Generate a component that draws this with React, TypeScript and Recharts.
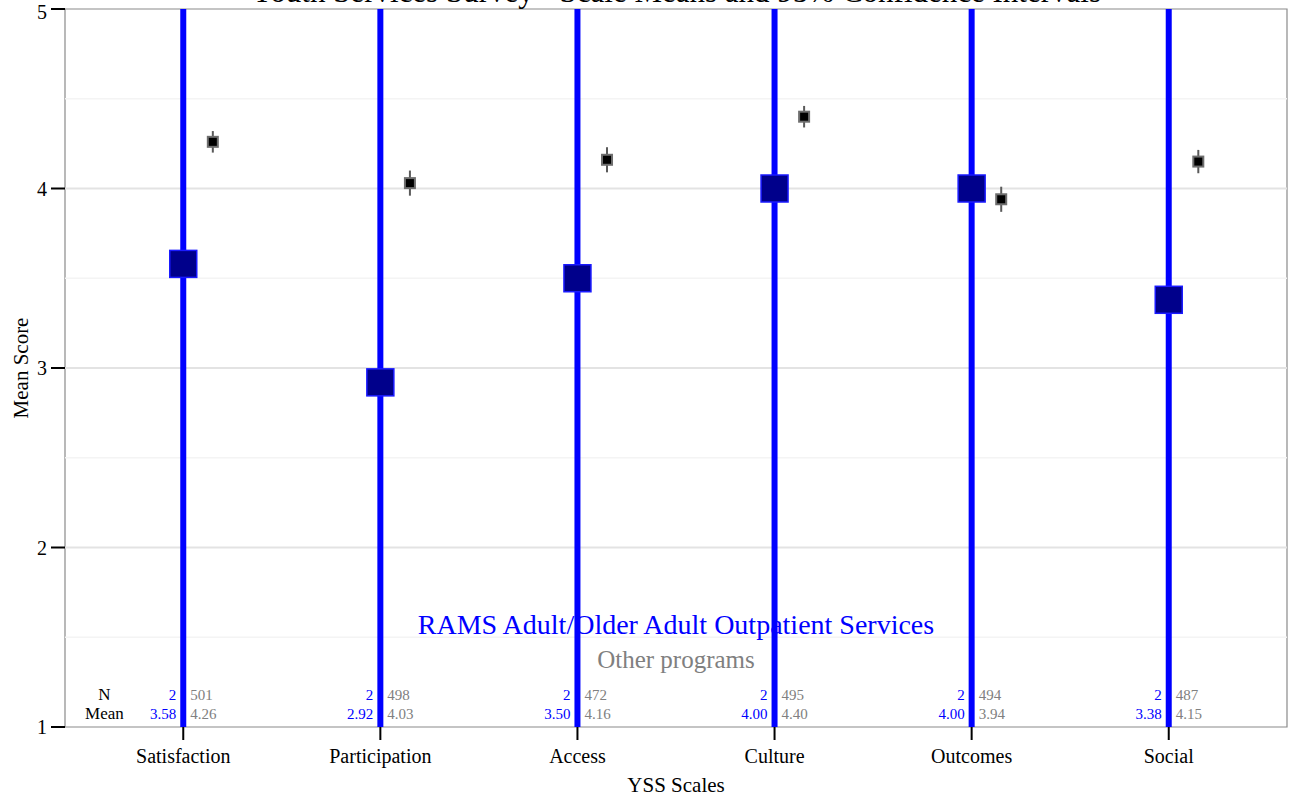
import {
  ComposedChart, Scatter, Line, XAxis, YAxis, ErrorBar, ReferenceLine, ReferenceArea, Label,
} from "recharts";

const SCALES = ["Satisfaction", "Participation", "Access", "Culture", "Outcomes", "Social"];

// RAMS Adult/Older Adult Outpatient Services
const ramsMean = [3.58, 2.92, 3.5, 4.0, 4.0, 3.38];
const ramsN = [2, 2, 2, 2, 2, 2];
const ramsLow = [-2.6, -4.6, -2.3, -0.9, -0.9, -3.2];
const ramsHigh = [9.8, 10.4, 9.3, 8.9, 8.9, 9.9];

// Other programs
const otherMean = [4.26, 4.03, 4.16, 4.4, 3.94, 4.15];
const otherN = [501, 498, 472, 495, 494, 487];
const otherCI = [0.06, 0.07, 0.07, 0.06, 0.07, 0.065];

const Y_TICKS = [1, 2, 3, 4, 5];
const MAJOR_GRID = [2, 3, 4];
const MINOR_GRID = [1.5, 2.5, 3.5, 4.5];

const X_DOMAIN: [number, number] = [0.4, 6.6];
const Y_DOMAIN: [number, number] = [1, 5];
const DODGE = 0.15;
const N_ROW_Y = 1.15;
const MEAN_ROW_Y = 1.045;
const ROW_LABEL_X = 0.6;

const FONT = "'Liberation Serif', 'DejaVu Serif', serif";

const ramsData = ramsMean.map((m, i) => ({ x: i + 1, y: m }));
const ramsLines = ramsMean.map((_, i) => [
  { x: i + 1, y: ramsLow[i] },
  { x: i + 1, y: ramsHigh[i] },
]);
const otherData = otherMean.map((m, i) => ({ x: i + 1 + DODGE, y: m, ci: otherCI[i] }));

const textRows = [
  { x: ROW_LABEL_X, y: N_ROW_Y, label: "N", color: "#000", anchor: "middle", dx: 0, size: 17 },
  { x: ROW_LABEL_X, y: MEAN_ROW_Y, label: "Mean", color: "#000", anchor: "middle", dx: 0, size: 17 },
  ...ramsN.map((n, i) => ({ x: i + 1, y: N_ROW_Y, label: String(n), color: "#0000ff", anchor: "end", dx: -7, size: 15 })),
  ...ramsMean.map((m, i) => ({ x: i + 1, y: MEAN_ROW_Y, label: m.toFixed(2), color: "#0000ff", anchor: "end", dx: -7, size: 15 })),
  ...otherN.map((n, i) => ({ x: i + 1, y: N_ROW_Y, label: String(n), color: "#808080", anchor: "start", dx: 7, size: 15 })),
  ...otherMean.map((m, i) => ({ x: i + 1, y: MEAN_ROW_Y, label: m.toFixed(2), color: "#808080", anchor: "start", dx: 7, size: 15 })),
];

const legendText = [
  { x: 3.5, y: 1.52, label: "RAMS Adult/Older Adult Outpatient Services", color: "#0000ff", size: 28 },
  { x: 3.5, y: 1.33, label: "Other programs", color: "#808080", size: 25 },
];

function TableText(p: any) {
  const d = p.payload;
  return (
    <text x={p.cx + d.dx} y={p.cy} textAnchor={d.anchor} fill={d.color} fontSize={d.size} fontFamily={FONT}>
      {d.label}
    </text>
  );
}

function LegendText(p: any) {
  const d = p.payload;
  return (
    <text x={p.cx} y={p.cy} textAnchor="middle" fill={d.color} fontSize={d.size} fontFamily={FONT}>
      {d.label}
    </text>
  );
}

function BigSquare(p: any) {
  return (
    <rect x={p.cx - 13.5} y={p.cy - 13.5} width={27} height={27} fill="#00008b" stroke="#1a1aff" strokeWidth={1.5} />
  );
}

function SmallSquare(p: any) {
  return (
    <rect x={p.cx - 5} y={p.cy - 5} width={10} height={10} fill="#000" stroke="#6e6e6e" strokeWidth={2} />
  );
}

export default function App() {
  return (
    <div style={{ position: "absolute", left: 0, top: 0, width: 1289, height: 801, overflow: "hidden", background: "#fff" }}>
      <ComposedChart width={1289} height={801} margin={{ top: 9, right: 2, bottom: 0, left: 0 }}>
        <XAxis
          type="number"
          dataKey="x"
          domain={X_DOMAIN}
          ticks={[1, 2, 3, 4, 5, 6]}
          tickFormatter={(v) => SCALES[v - 1] ?? ""}
          allowDataOverflow
          height={74}
          tickSize={13}
          tickMargin={9}
          axisLine={false}
          tickLine={{ stroke: "#000", strokeWidth: 2 }}
          tick={{ fill: "#000", fontSize: 20, fontFamily: FONT }}
        >
          <Label value="YSS Scales" position="insideBottom" offset={9} fill="#000" fontSize={21} fontFamily={FONT} />
        </XAxis>
        <YAxis
          type="number"
          dataKey="y"
          domain={Y_DOMAIN}
          ticks={Y_TICKS}
          allowDataOverflow
          width={65}
          tickSize={14}
          tickMargin={4}
          axisLine={false}
          tickLine={{ stroke: "#000", strokeWidth: 2 }}
          tick={{ fill: "#000", fontSize: 20, fontFamily: FONT }}
          label={{
            content: (props: any) => {
              const vb = props.viewBox;
              const cx = vb.x + 21;
              const cy = vb.y + vb.height / 2;
              return (
                <text x={cx} y={cy} transform={`rotate(-90 ${cx} ${cy})`} textAnchor="middle" dominantBaseline="central" fill="#000" fontSize={21} fontFamily={FONT}>
                  Mean Score
                </text>
              );
            },
          }}
        />
        {MINOR_GRID.map((v) => (
          <ReferenceLine key={`mi${v}`} y={v} stroke="#f4f4f4" strokeWidth={1.5} />
        ))}
        {MAJOR_GRID.map((v) => (
          <ReferenceLine key={`ma${v}`} y={v} stroke="#e3e3e3" strokeWidth={2} />
        ))}
        <Scatter data={textRows} shape={TableText} isAnimationActive={false} />
        <Scatter data={legendText} shape={LegendText} isAnimationActive={false} />
        {ramsLines.map((seg, i) => (
          <Line
            key={`ci${i}`}
            data={seg}
            dataKey="y"
            type="linear"
            stroke="#0000ff"
            strokeWidth={6}
            dot={false}
            activeDot={false}
            isAnimationActive={false}
          />
        ))}
        <Scatter data={ramsData} shape={BigSquare} isAnimationActive={false} />
        <Scatter data={otherData} shape={SmallSquare} isAnimationActive={false}>
          <ErrorBar dataKey="ci" direction="y" width={0} stroke="#5a5a5a" strokeWidth={2} />
        </Scatter>
        <ReferenceArea
          x1={X_DOMAIN[0]}
          x2={X_DOMAIN[1]}
          y1={Y_DOMAIN[0]}
          y2={Y_DOMAIN[1]}
          fill="none"
          fillOpacity={0}
          stroke="#8a8a8a"
          strokeWidth={1.2}
          ifOverflow="visible"
        />
      </ComposedChart>
      <svg width={1289} height={30} style={{ position: "absolute", left: 0, top: 0, pointerEvents: "none" }}>
        <text x={676} y={2} textAnchor="middle" fill="#000" fontSize={31} fontFamily={FONT}>
          Youth Services Survey - Scale Means and 95% Confidence Intervals
        </text>
      </svg>
    </div>
  );
}
